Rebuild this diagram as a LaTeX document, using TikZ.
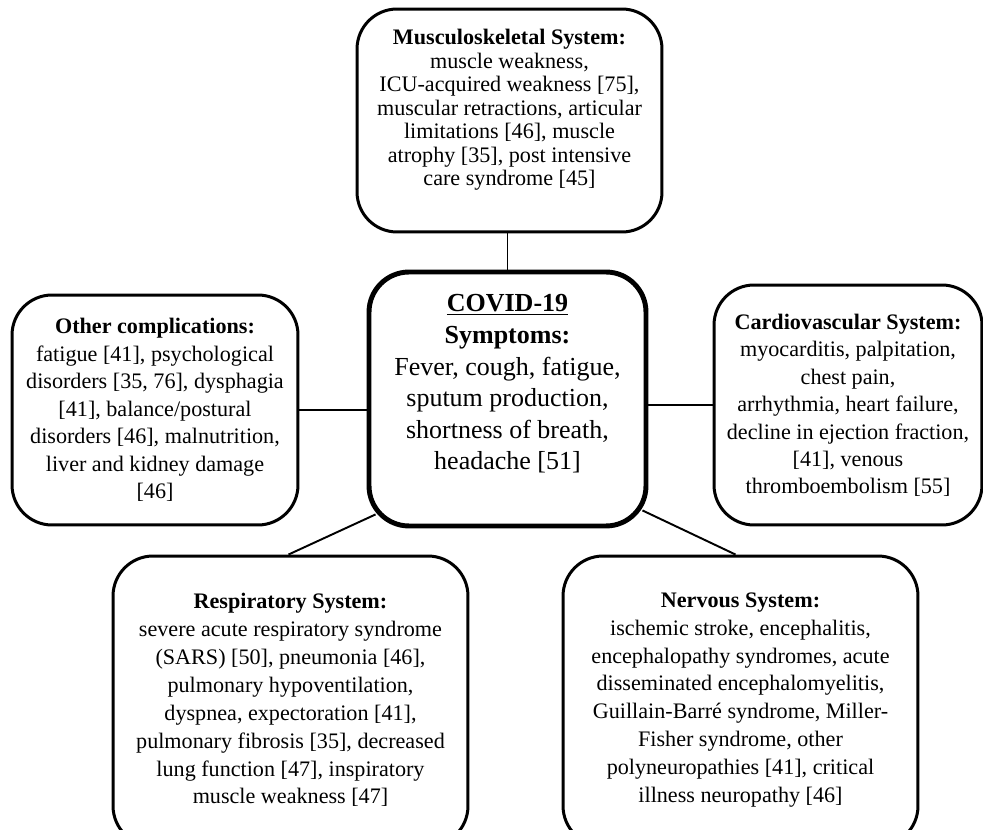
\documentclass[tikz,border=0pt]{standalone}
\usepackage{fontspec}
\setmainfont{Liberation Serif}
\usetikzlibrary{calc,shapes}

\begin{document}
\begin{tikzpicture}[x=0.02cm,y=-0.02cm,
    box/.style={draw, rectangle, rounded corners=0.8cm, line width=1.7pt, fill=white, inner sep=0pt},
    mainbox/.style={box, line width=2.8pt},
    txt/.style={align=center, inner sep=0pt},
    link/.style={line width=1.1pt}]
  \useasboundingbox (0,0) rectangle (983,830);

  % boxes
  \node [box, minimum width=6.1cm, minimum height=4.46cm] (musc) at (509.5,120.5) {};
  \node [mainbox, minimum width=5.54cm, minimum height=5.08cm] (covid) at (507.5,399) {};
  \node [box, minimum width=5.72cm, minimum height=4.6cm] (other) at (155,410) {};
  \node [box, minimum width=5.36cm, minimum height=4.8cm] (cardio) at (848,405) {};
  \node [box, minimum width=7.1cm, minimum height=5.8cm] (resp) at (290.5,701) {};
  \node [box, minimum width=7.1cm, minimum height=5.8cm] (nerv) at (740.5,701) {};

  % texts
  \node [txt, font=\fontsize{12.6}{13.4}\selectfont] (muscText) at (509.5,110) {\textbf{Musculoskeletal System:}\\ muscle weakness,\\ ICU-acquired weakness [75],\\ muscular retractions, articular\\ limitations [46], muscle\\ atrophy [35], post intensive\\ care syndrome [45]};
  \node [txt, font=\fontsize{14.8}{18}\selectfont] (covidText) at (507.5,384) {\textbf{\underline{COVID-19}}\\ \textbf{Symptoms:}\\ Fever, cough, fatigue,\\ sputum production,\\ shortness of breath,\\ headache [51]};
  \node [txt, font=\fontsize{12.6}{15.6}\selectfont] (otherText) at (155,410) {\textbf{Other complications:}\\ fatigue [41], psychological\\ disorders [35, 76], dysphagia\\ {[41]}, balance/postural\\ disorders [46], malnutrition,\\ liver and kidney damage\\ {[46]}};
  \node [txt, font=\fontsize{12.6}{15.6}\selectfont] (cardioText) at (848,405.5) {\textbf{Cardiovascular System:}\\ myocarditis, palpitation,\\ chest pain,\\ arrhythmia, heart failure,\\ decline in ejection fraction,\\ {[41]}, venous\\ thromboembolism [55]};
  \node [txt, font=\fontsize{12.6}{15.9}\selectfont] (respText) at (290.5,700) {\textbf{Respiratory System:}\\ severe acute respiratory syndrome\\ (SARS) [50], pneumonia [46],\\ pulmonary hypoventilation,\\ dyspnea, expectoration [41],\\ pulmonary fibrosis [35], decreased\\ lung function [47], inspiratory\\ muscle weakness [47]};
  \node [txt, font=\fontsize{12.6}{15.9}\selectfont] (nervText) at (740.5,700) {\textbf{Nervous System:}\\ ischemic stroke, encephalitis,\\ encephalopathy syndromes, acute\\ disseminated encephalomyelitis,\\ Guillain-Barré syndrome, Miller-\\ Fisher syndrome, other\\ polyneuropathies [41], critical\\ illness neuropathy [46]};

  % links
  \draw [link] (covid.north |- musc.south) -- (covid.north);
  \draw [link] (other.east) -- (other.east -| covid.west);
  \draw [link] (covid.east |- cardio.west) -- (cardio.west);
  \draw [link] ([shift={(9,-14)}]covid.south west) -- ([shift={(-2,0)}]resp.north);
  \draw [link] ([shift={(-6,-18)}]covid.south east) -- ([shift={(-5,0)}]nerv.north);
\end{tikzpicture}
\end{document}
